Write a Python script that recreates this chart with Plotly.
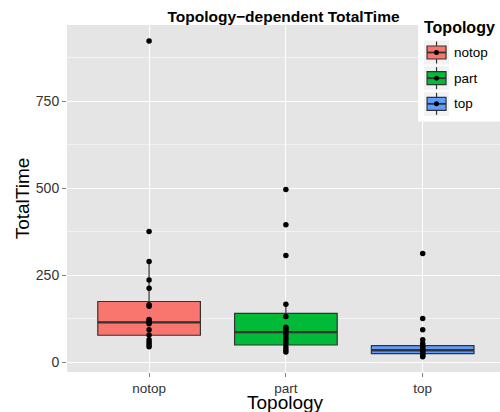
import plotly.graph_objects as go

# ---- data ----
categories = ["notop", "part", "top"]
colors = ["#F8766D", "#00BA38", "#619CFF"]

notop_points = [923, 375, 289, 236, 212, 165, 160, 122, 119, 114, 110, 93, 78, 64, 57, 50, 44]
part_points = [496, 395, 306, 166, 131, 100, 96, 92, 86, 79, 70, 62, 53, 43, 35, 29]
top_points = [312, 125, 93, 64, 53, 47, 42, 38, 34, 30, 26, 22, 18, 15]

q1_vals = [77, 49, 24]
median_vals = [114, 86, 34]
q3_vals = [174, 140, 47]
lower_whisker = [44, 29, 15]
upper_whisker = [289, 166, 64]

y_tick_vals = [0, 250, 500, 750]

points = [notop_points, part_points, top_points]

W, H = 500, 412
PL, PR, PT, PB = 66.7, 500.0, 24.5, 371.7


def px(x):
    return (x - PL) / (PR - PL)


def py(y):
    return (PB - y) / (PB - PT)


fig = go.Figure()
box_w = 0.75
for i, cat in enumerate(categories):
    fig.add_trace(go.Box(
        x=[i], q1=[q1_vals[i]], median=[median_vals[i]], q3=[q3_vals[i]],
        lowerfence=[lower_whisker[i]], upperfence=[upper_whisker[i]],
        width=box_w, whiskerwidth=0, fillcolor=colors[i],
        line=dict(color="#333333", width=1.2), boxpoints=False,
        name=cat, showlegend=False, hoverinfo="skip"))
    fig.add_trace(go.Scatter(
        x=[i - box_w / 2, i + box_w / 2], y=[median_vals[i], median_vals[i]],
        mode="lines", line=dict(color="#333333", width=2.4),
        showlegend=False, hoverinfo="skip"))
    fig.add_trace(go.Scatter(
        x=[i] * len(points[i]), y=points[i], mode="markers",
        marker=dict(color="black", size=5.5),
        showlegend=False, hoverinfo="skip"))

# ---- manual legend (ggplot style) ----
shapes = []
annotations = []
shapes.append(dict(type="rect", xref="paper", yref="paper",
                   x0=px(418), x1=px(500), y0=py(121), y1=py(0),
                   fillcolor="white", line=dict(width=0), layer="above"))
annotations.append(dict(text="<b>Topology</b>", xref="paper", yref="paper",
                        x=px(422), y=py(27), xanchor="left", yanchor="middle",
                        showarrow=False, font=dict(size=16, color="black")))
key_tops = [40, 65.7, 91.4]
for i, cat in enumerate(categories):
    t = key_tops[i]
    b = t + 24
    cx = 436.5
    cy = (t + b) / 2
    shapes.append(dict(type="rect", xref="paper", yref="paper",
                       x0=px(424), x1=px(449), y0=py(b), y1=py(t),
                       fillcolor="#F2F2F2", line=dict(width=0), layer="above"))
    shapes.append(dict(type="line", xref="paper", yref="paper",
                       x0=px(cx), x1=px(cx), y0=py(b - 1), y1=py(t + 1),
                       line=dict(color="#333333", width=1.2), layer="above"))
    shapes.append(dict(type="rect", xref="paper", yref="paper",
                       x0=px(427), x1=px(446), y0=py(cy + 6.5), y1=py(cy - 6.5),
                       fillcolor=colors[i], line=dict(color="#333333", width=1.2),
                       layer="above"))
    shapes.append(dict(type="line", xref="paper", yref="paper",
                       x0=px(427), x1=px(446), y0=py(cy), y1=py(cy),
                       line=dict(color="#333333", width=1.8), layer="above"))
    shapes.append(dict(type="circle", xref="paper", yref="paper",
                       x0=px(cx - 2.5), x1=px(cx + 2.5), y0=py(cy + 2.5), y1=py(cy - 2.5),
                       fillcolor="black", line=dict(width=0), layer="above"))
    annotations.append(dict(text=cat, xref="paper", yref="paper",
                            x=px(452), y=py(cy), xanchor="left", yanchor="middle",
                            showarrow=False, font=dict(size=13.5, color="black")))

# x-axis title as an annotation for precise placement
annotations.append(dict(text="Topology", xref="paper", yref="paper",
                        x=px(285.5), y=py(402.5), xanchor="center", yanchor="middle",
                        showarrow=False, font=dict(size=19, color="black")))

font_family = "Liberation Sans, Arial, sans-serif"

fig.update_layout(
    width=W, height=H,
    margin=dict(l=PL, r=W - PR, t=PT, b=H - PB, pad=0),
    paper_bgcolor="white", plot_bgcolor="#E5E5E5",
    font=dict(family=font_family, color="black"),
    title=dict(text="<b>Topology−dependent TotalTime</b>",
               x=0.5, xref="paper", xanchor="center",
               y=1 - 16.5 / H, yref="container", yanchor="middle",
               font=dict(size=15.5, color="black")),
    xaxis=dict(range=[-0.6, 2.565], tickvals=[0, 1, 2], ticktext=categories,
               showgrid=True, gridcolor="white", gridwidth=1.1, zeroline=False,
               ticks="outside", ticklen=4, tickcolor="#7F7F7F", tickwidth=1,
               tickfont=dict(size=13.5, color="#333333"),
               automargin=False, fixedrange=True),
    yaxis=dict(range=[-28.7, 969], tickvals=y_tick_vals,
               showgrid=True, gridcolor="white", gridwidth=1.1, zeroline=False,
               minor=dict(dtick=125, tick0=0, showgrid=True, gridcolor="#F2F2F2", gridwidth=0.6),
               ticks="outside", ticklen=4, tickcolor="#7F7F7F", tickwidth=1,
               tickfont=dict(size=14, color="#333333"),
               title=dict(text="TotalTime", font=dict(size=19, color="black"), standoff=1),
               automargin=False, fixedrange=True),
    shapes=shapes, annotations=annotations,
    showlegend=False,
)

fig.write_html("out.html", config={"displayModeBar": False},
               post_script="document.body.style.margin='0px';")
